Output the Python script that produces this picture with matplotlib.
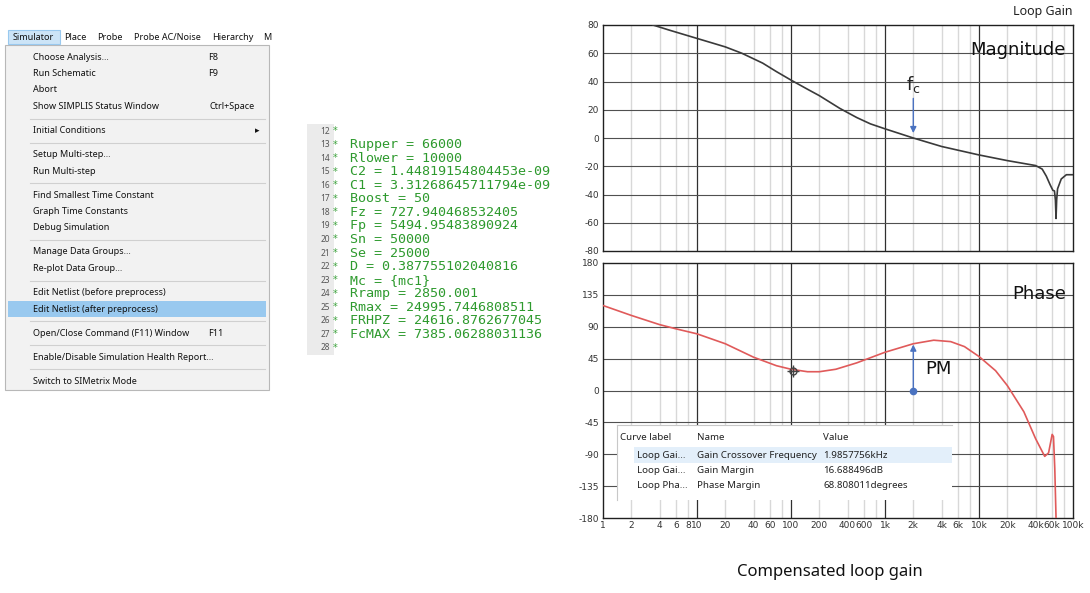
import numpy as np
import matplotlib
matplotlib.use("Agg")
import matplotlib.pyplot as plt
from matplotlib.patches import Rectangle

plt.rcParams["axes.unicode_minus"] = False

# --- menu (None = separator) ---
menu_bar = ["Simulator", "Place", "Probe", "Probe AC/Noise", "Hierarchy", "M"]
menu_items = [
    ("Choose Analysis...", "F8"),
    ("Run Schematic", "F9"),
    ("Abort", ""),
    ("Show SIMPLIS Status Window", "Ctrl+Space"),
    None,
    ("Initial Conditions", "\u25b8"),
    None,
    ("Setup Multi-step...", ""),
    ("Run Multi-step", ""),
    None,
    ("Find Smallest Time Constant", ""),
    ("Graph Time Constants", ""),
    ("Debug Simulation", ""),
    None,
    ("Manage Data Groups...", ""),
    ("Re-plot Data Group...", ""),
    None,
    ("Edit Netlist (before preprocess)", ""),
    ("Edit Netlist (after preprocess)", ""),
    None,
    ("Open/Close Command (F11) Window", "F11"),
    None,
    ("Enable/Disable Simulation Health Report...", ""),
    None,
    ("Switch to SIMetrix Mode", ""),
]
highlighted = "Edit Netlist (after preprocess)"

# --- netlist ---
netlist_start = 12
netlist_lines = [
    "",
    "Rupper = 66000",
    "Rlower = 10000",
    "C2 = 1.44819154804453e-09",
    "C1 = 3.31268645711794e-09",
    "Boost = 50",
    "Fz = 727.940468532405",
    "Fp = 5494.95483890924",
    "Sn = 50000",
    "Se = 25000",
    "D = 0.387755102040816",
    "Mc = {mc1}",
    "Rramp = 2850.001",
    "Rmax = 24995.7446808511",
    "FRHPZ = 24616.8762677045",
    "FcMAX = 7385.06288031136",
    "",
]

# --- loop gain ---
mag_f = [3.4, 5, 10, 15, 20, 30, 50, 70, 100, 150, 200, 330, 500, 700,
         1000, 2000, 4000, 10000, 20000, 40000, 47000, 52000, 57000, 61000,
         63500, 65000, 66000, 67000, 68500, 75000, 85000, 100000]
mag_db = [80, 76.5, 70.5, 67, 64.5, 60, 53, 47, 41, 34.5, 30, 21, 14.5, 10,
          6.5, 0, -6, -12, -16, -19.5, -22, -27, -33, -37,
          -37.5, -44, -57, -44, -36, -29, -26, -26]

ph_f = [1, 2, 4, 6, 10, 20, 40, 70, 100, 150, 200, 300, 500, 1000, 2000,
        3300, 5000, 7000, 10000, 15000, 20000, 30000, 40000, 50000, 55000,
        60000, 62000, 64000, 66000]
ph_deg = [120, 106, 93, 87, 80, 66, 47, 35, 30, 26.5, 26.5, 30, 39, 54, 66,
          71, 69, 62, 48, 28, 7, -30, -68, -93, -88, -62, -65, -110, -180]

fc = 2000
pm = 68.8
cursor = (105, 28)

xtick_vals = [1, 2, 4, 6, 8, 10, 20, 40, 60, 100, 200, 400, 600, 1000, 2000,
              4000, 6000, 10000, 20000, 40000, 60000, 100000]
xtick_labels = ["1", "2", "4", "6", "8", "10", "20", "40", "60", "100", "200",
                "400", "600", "1k", "2k", "4k", "6k", "10k", "20k", "40k",
                "60k", "100k"]

table_header = ["Curve label", "Name", "Value"]
table_rows = [
    ["Loop Gai...", "Gain Crossover Frequency", "1.9857756kHz"],
    ["Loop Gai...", "Gain Margin", "16.688496dB"],
    ["Loop Pha...", "Phase Margin", "68.808011degrees"],
]

W, H = 1090, 593
fig = plt.figure(figsize=(W / 100, H / 100), dpi=100)
fig.patch.set_facecolor("white")


def frac(x0, y0, x1, y1):
    return [x0 / W, 1 - y1 / H, (x1 - x0) / W, (y1 - y0) / H]


def style_bode(ax, yticks):
    ax.set_xscale("log")
    ax.set_xlim(1, 100000)
    ax.set_yticks(yticks)
    ax.set_ylim(yticks[0], yticks[-1])
    for d in [1, 10, 100, 1000, 10000]:
        for m in (2, 4, 6, 8):
            ax.axvline(d * m, color="#d8d8d8", lw=1.0, zorder=0)
    for d in [10, 100, 1000, 10000]:
        ax.axvline(d, color="#303030", lw=0.9, zorder=1)
    for yv in yticks[1:-1]:
        ax.axhline(yv, color="#505050", lw=0.8, zorder=1)
    ax.tick_params(axis="y", labelsize=6.5, length=0, pad=3, colors="#333333")
    ax.xaxis.set_minor_locator(matplotlib.ticker.NullLocator())
    for s in ax.spines.values():
        s.set_color("#202020")
        s.set_linewidth(1.0)


# magnitude
axm = fig.add_axes(frac(603, 25, 1073, 251))
style_bode(axm, list(range(-80, 81, 20)))
axm.set_xticks([])
axm.plot(mag_f, mag_db, color="#3a3a3a", lw=1.2, zorder=3)
axm.annotate("", xy=(fc, 1.5), xytext=(fc, 30),
             arrowprops=dict(arrowstyle="-|>", color="#4a72c0", lw=1,
                             mutation_scale=9), zorder=4)
axm.text(fc, 38, r"f$_\mathregular{c}$", fontsize=13, ha="center",
         va="center", color="#222222")
axm.text(0.985, 0.89, "Magnitude", transform=axm.transAxes, fontsize=13,
         ha="right", va="center", color="#111111")

# phase
axp = fig.add_axes(frac(603, 263, 1073, 518))
style_bode(axp, list(range(-180, 181, 45)))
axp.set_xticks(xtick_vals)
axp.set_xticklabels(xtick_labels)
axp.tick_params(axis="x", labelsize=6.5, length=0, pad=2, colors="#333333")
axp.plot(ph_f, ph_deg, color="#e05a5a", lw=1.2, zorder=3)
axp.annotate("", xy=(fc, pm), xytext=(fc, 0),
             arrowprops=dict(arrowstyle="-|>", color="#4a72c0", lw=1,
                             mutation_scale=9), zorder=4)
axp.plot([fc], [0], "o", color="#4a72c0", ms=4.5, zorder=4)
axp.text(2650, 30, "PM", fontsize=13, ha="left", va="center", color="#111111")
axp.plot([cursor[0]], [cursor[1]], "o", mfc="none", mec="#444444", ms=5,
         zorder=5)
axp.plot([cursor[0]], [cursor[1]], "+", color="#444444", ms=8, zorder=5)
axp.text(0.985, 0.88, "Phase", transform=axp.transAxes, fontsize=13,
         ha="right", va="center", color="#111111")

# overlay in pixel coordinates
ov = fig.add_axes([0, 0, 1, 1], zorder=10)
ov.set_xlim(0, W)
ov.set_ylim(H, 0)
ov.axis("off")
ov.patch.set_alpha(0)

ff = "Noto Sans"

# menu
ov.add_patch(Rectangle((5, 45), 264, 345, fc="#f2f2f2", ec="#b8b8b8", lw=0.8))
bar_x = [13, 64, 97, 134, 212, 263]
ov.add_patch(Rectangle((8, 30), 52, 14, fc="#cce4f7", ec="#99c9ef", lw=0.8))
for lab, bx in zip(menu_bar, bar_x):
    ov.text(bx, 37, lab, fontsize=6.5, family=ff, va="center", ha="left",
            color="#111111")
y = 57
for it in menu_items:
    if it is None:
        ov.plot([30, 265], [y - 4.5, y - 4.5], color="#d0d0d0", lw=0.8)
        y += 7.5
        continue
    lab, sc = it
    if lab == highlighted:
        ov.add_patch(Rectangle((8, y - 8), 258, 16, fc="#99c9ef", ec="none"))
    ov.text(33, y, lab, fontsize=6.5, family=ff, va="center", ha="left",
            color="#111111")
    if sc == "\u25b8":
        ov.text(255, y, sc, fontsize=6.5, family="DejaVu Sans", va="center",
                ha="left", color="#111111")
    elif sc.startswith("F"):
        ov.text(208, y, sc, fontsize=6.5, family=ff, va="center", ha="left",
                color="#111111")
    elif sc:
        ov.text(255, y, sc, fontsize=6.5, family=ff, va="center", ha="right",
                color="#111111")
    y += 16.5

# netlist
n = len(netlist_lines)
ov.add_patch(Rectangle((307, 124), 27, 13.56 * (n - 1) + 14, fc="#ebebeb",
                       ec="none"))
for i, line in enumerate(netlist_lines):
    yy = 131 + i * 13.56
    ov.text(330, yy, str(netlist_start + i), fontsize=6, family=ff,
            ha="right", va="center", color="#555555")
    ov.text(333, yy, "*", fontsize=7, family="DejaVu Sans", ha="left",
            va="center", color="#3aa03a")
    ov.text(350, yy, line, fontsize=9.6, family="DejaVu Sans Mono",
            ha="left", va="center", color="#2e9a2e")

# measurement table
ov.add_patch(Rectangle((617, 425), 335, 75, fc="white", ec="none"))
ov.plot([617, 952], [425, 425], color="#c8c8c8", lw=0.8)
ov.plot([617, 617], [425, 500], color="#c8c8c8", lw=0.8)
ov.add_patch(Rectangle((634, 447), 318, 16, fc="#e3effa", ec="none"))
col_x = [620, 697, 823]
for txt, cx in zip(table_header, col_x):
    ov.text(cx, 437, txt, fontsize=7, family=ff, ha="left", va="center",
            color="#222222")
for r, row in enumerate(table_rows):
    ry = 455 + r * 15.5
    for c, txt in enumerate(row):
        cx = 637 if c == 0 else col_x[c]
        ov.text(cx, ry, txt, fontsize=7, family=ff, ha="left", va="center",
                color="#222222")

ov.text(1043, 12, "Loop Gain", fontsize=9, family=ff, ha="center",
        va="center", color="#222222")
ov.text(830, 572, "Compensated loop gain", fontsize=12, family=ff,
        ha="center", va="center", color="#111111")

fig.savefig("out.png", dpi=100)
